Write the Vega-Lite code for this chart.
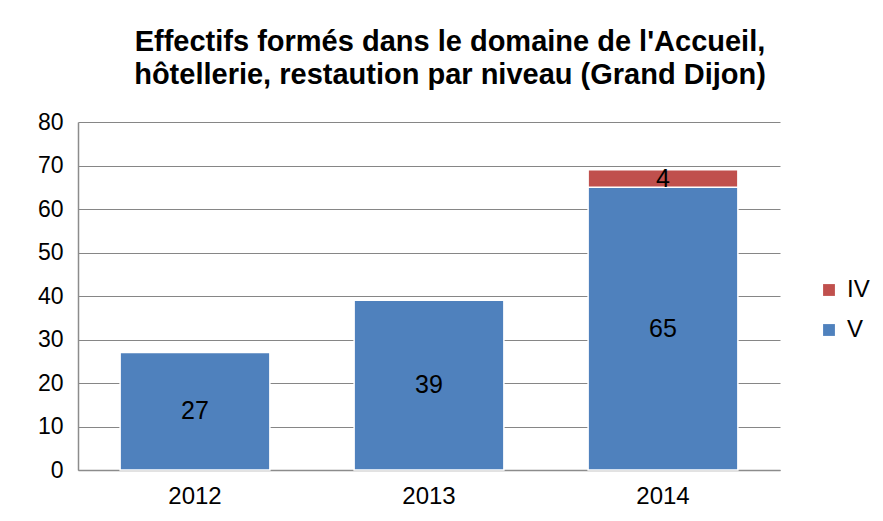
{
  "$schema": "https://vega.github.io/schema/vega-lite/v6.json",
  "width": 702,
  "height": 348,
  "autosize": {"type": "none"},
  "padding": {"left": 78, "top": 122, "right": 103, "bottom": 51},
  "background": "white",
  "title": {
    "text": ["Effectifs formés dans le domaine de l'Accueil,", "hôtellerie, restaution par niveau (Grand Dijon)"],
    "font": "Liberation Sans",
    "fontSize": 29,
    "fontWeight": "bold",
    "color": "#000000",
    "lineHeight": 33,
    "anchor": "middle",
    "dx": 21,
    "offset": 21
  },
  "data": {
    "values": [
      {"annee": "2012", "niveau": "V", "effectif": 27},
      {"annee": "2013", "niveau": "V", "effectif": 39},
      {"annee": "2014", "niveau": "V", "effectif": 65},
      {"annee": "2014", "niveau": "IV", "effectif": 4}
    ]
  },
  "encoding": {
    "x": {
      "field": "annee",
      "type": "nominal",
      "scale": {"paddingInner": 0.36, "paddingOuter": 0.18},
      "axis": {
        "title": null,
        "labelAngle": 0,
        "labelFont": "Liberation Sans",
        "labelFontSize": 24,
        "labelColor": "#000000",
        "labelPadding": 14,
        "ticks": false,
        "domainColor": "#8c8c8c",
        "domainWidth": 1.5
      }
    },
    "y": {
      "field": "effectif",
      "type": "quantitative",
      "stack": "zero",
      "scale": {"domain": [0, 80]},
      "axis": {
        "title": null,
        "values": [0, 10, 20, 30, 40, 50, 60, 70, 80],
        "labelFont": "Liberation Sans",
        "labelFontSize": 23,
        "labelColor": "#000000",
        "labelPadding": 15,
        "ticks": false,
        "domainColor": "#8c8c8c",
        "domainWidth": 1.5,
        "gridColor": "#868686",
        "gridWidth": 1
      }
    },
    "order": {"field": "niveau", "sort": "descending"}
  },
  "layer": [
    {
      "mark": {"type": "bar", "stroke": "white", "strokeWidth": 1.5},
      "encoding": {
        "color": {
          "field": "niveau",
          "type": "nominal",
          "scale": {"domain": ["IV", "V"], "range": ["#C0504D", "#4F81BD"]},
          "legend": {
            "title": null,
            "orient": "none",
            "legendX": 739,
            "legendY": 156,
            "symbolType": "square",
            "symbolSize": 140,
            "symbolStrokeWidth": 0,
            "labelFont": "Liberation Sans",
            "labelFontSize": 24,
            "labelColor": "#000000",
            "labelOffset": 6,
            "rowPadding": 16
          }
        }
      }
    },
    {
      "mark": {"type": "text", "font": "Liberation Sans", "fontSize": 25, "color": "#000000"},
      "encoding": {
        "y": {"field": "effectif", "type": "quantitative", "stack": "zero", "bandPosition": 0.5},
        "text": {"field": "effectif", "type": "quantitative"}
      }
    }
  ],
  "config": {"view": {"stroke": null}}
}
